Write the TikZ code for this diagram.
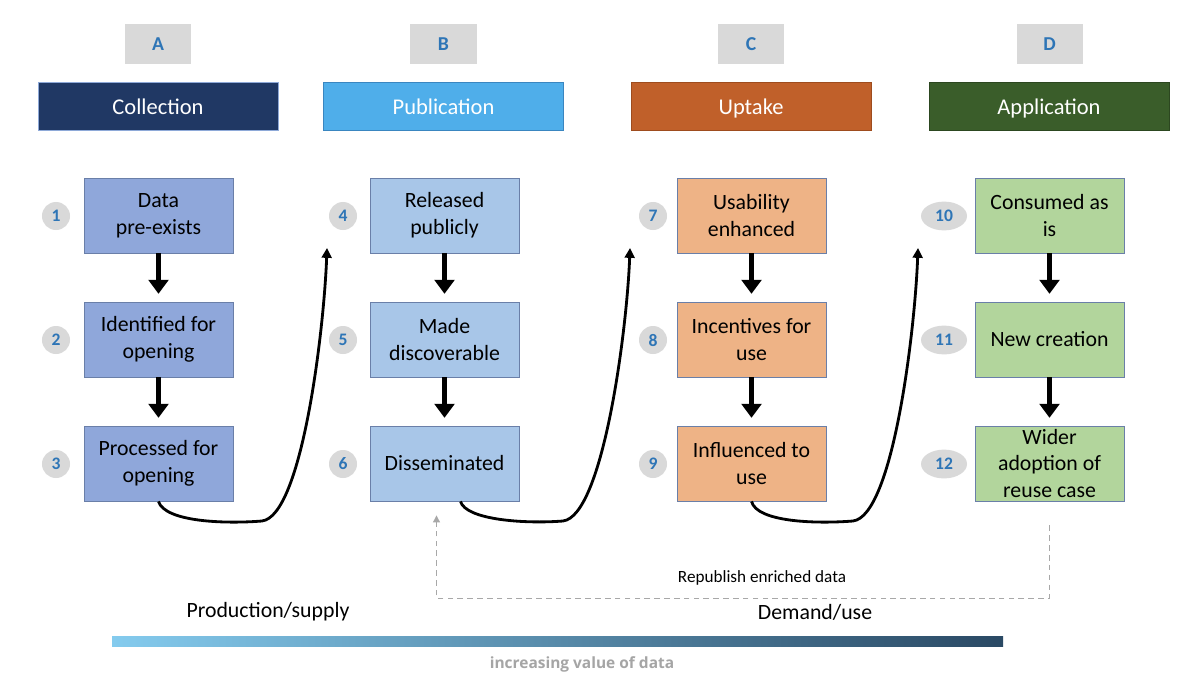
\documentclass[tikz,border=0pt]{standalone}
\usepackage{fontspec}
\setmainfont{Carlito}
\newfontfamily\valuefont{Open Sans}
\usetikzlibrary{arrows.meta, shapes.geometric}

\definecolor{tabgray}{HTML}{D9D9D9}
\definecolor{letterblue}{HTML}{2E75B6}
\definecolor{collectbar}{HTML}{203864}
\definecolor{collectedge}{HTML}{8EA9D8}
\definecolor{publishbar}{HTML}{4FAEEA}
\definecolor{publishedge}{HTML}{3A86C0}
\definecolor{uptakebar}{HTML}{C0602A}
\definecolor{uptakeedge}{HTML}{9E4C1E}
\definecolor{applybar}{HTML}{3A5D2A}
\definecolor{applyedge}{HTML}{2C4720}
\definecolor{collectfill}{HTML}{8FA7DA}
\definecolor{publishfill}{HTML}{A8C6E8}
\definecolor{uptakefill}{HTML}{EEB386}
\definecolor{applyfill}{HTML}{B2D59C}
\definecolor{boxedge}{HTML}{6A7FA8}
\definecolor{dashgray}{HTML}{A8A8A8}
\definecolor{valuegray}{HTML}{A5A5A5}
\definecolor{gradleft}{HTML}{84CBEE}
\definecolor{gradmid}{HTML}{4A9FD6}
\definecolor{gradright}{HTML}{2A4964}

\begin{document}
\begin{tikzpicture}[x=0.025cm, y=-0.025cm,
    tab/.style={rectangle, fill=tabgray, minimum width=1.65cm, minimum height=1cm, text=letterblue, font=\fontsize{14}{16}\selectfont\bfseries},
    bar/.style={rectangle, minimum width=6cm, minimum height=1.2cm, line width=0.6pt, text=white, text height=14pt, text depth=2.6pt, font=\fontsize{16}{19}\selectfont},
    stepbox/.style={rectangle, draw=boxedge, line width=0.6pt, minimum width=3.725cm, minimum height=1.875cm, inner sep=1pt, align=center, font=\fontsize{15.5}{19}\selectfont},
    num/.style={circle, fill=tabgray, minimum size=0.7cm, inner sep=0pt, text=letterblue, font=\fontsize{12.5}{14}\selectfont\bfseries},
    numoval/.style={ellipse, fill=tabgray, minimum width=1.15cm, minimum height=0.72cm, inner sep=0pt, text=letterblue, font=\fontsize{12.5}{14}\selectfont\bfseries},
    flow/.style={-{Triangle[width=14pt,length=10pt]}, line width=3.3pt, shorten >=5.5pt},
    jump/.style={-{Triangle[width=7pt,length=7pt]}, line width=2pt},
    dashline/.style={draw=dashgray, line width=0.8pt, dash pattern=on 4pt off 3pt, -{Triangle[width=5pt,length=5pt]}},
    caption/.style={font=\fontsize{15.5}{18}\selectfont}
]
\fill[white] (0,0) rectangle (1200,696);

\node[tab] (tabA) at (158,44) {A};
\node[tab] (tabB) at (443.5,44) {B};
\node[tab] (tabC) at (751,44) {C};
\node[tab] (tabD) at (1049.5,44) {D};

\node[bar, fill=collectbar, draw=collectedge] (collection) at (158,106) {Collection};
\node[bar, fill=publishbar, draw=publishedge] (publication) at (443.5,106) {Publication};
\node[bar, fill=uptakebar, draw=uptakeedge] (uptake) at (751,106) {Uptake};
\node[bar, fill=applybar, draw=applyedge] (application) at (1049,106) {Application};

\node[stepbox, fill=collectfill] (b1) at (158.5,215.5) {Data\\pre-exists};
\node[stepbox, fill=collectfill] (b2) at (158.5,339.5) {Identified for\\opening};
\node[stepbox, fill=collectfill] (b3) at (158.5,463.5) {Processed for\\opening};
\node[stepbox, fill=publishfill] (b4) at (444.5,215.5) {Released\\publicly};
\node[stepbox, fill=publishfill] (b5) at (444.5,339.5) {Made\\discoverable};
\node[stepbox, fill=publishfill] (b6) at (444.5,463.5) {Disseminated};
\node[stepbox, fill=uptakefill] (b7) at (751.5,215.5) {Usability\\enhanced};
\node[stepbox, fill=uptakefill] (b8) at (751.5,339.5) {Incentives for\\use};
\node[stepbox, fill=uptakefill] (b9) at (751.5,463.5) {Influenced to\\use};
\node[stepbox, fill=applyfill] (b10) at (1049.5,215.5) {Consumed as\\is};
\node[stepbox, fill=applyfill] (b11) at (1049.5,339.5) {New creation};
\node[stepbox, fill=applyfill] (b12) at (1049.5,463.5) {Wider\\adoption of\\reuse case};

\node[num] (n1) at (56,216) {1};
\node[num] (n2) at (56,340) {2};
\node[num] (n3) at (56,464) {3};
\node[num] (n4) at (343,216) {4};
\node[num] (n5) at (343,340) {5};
\node[num] (n6) at (343,464) {6};
\node[num] (n7) at (653,216) {7};
\node[num] (n8) at (653,340) {8};
\node[num] (n9) at (653,464) {9};
\node[numoval] (n10) at (944,216) {10};
\node[numoval] (n11) at (944,340) {11};
\node[numoval] (n12) at (944,464) {12};

\draw[flow] (b1) -- (b2);
\draw[flow] (b2) -- (b3);
\draw[flow] (b4) -- (b5);
\draw[flow] (b5) -- (b6);
\draw[flow] (b7) -- (b8);
\draw[flow] (b8) -- (b9);
\draw[flow] (b10) -- (b11);
\draw[flow] (b11) -- (b12);

\coordinate (t4) at (327,248);
\coordinate (t7) at (630,248);
\coordinate (t10) at (918,248);
\draw[jump] (b3.south) .. controls (165,522) and (225,524) .. (262,521) .. controls (302,516) and (324,330) .. (t4);
\draw[jump] ([xshift=0.4cm]b6.south) .. controls (466,520) and (525,524) .. (563,521) .. controls (603,516) and (627,330) .. (t7);
\draw[jump] (b9.south) .. controls (757,522) and (815,524) .. (853,521) .. controls (893,516) and (915,330) .. (t10);

\draw[dashline] ([yshift=-0.6cm]b12.south) -- ++(0,73) -| ([xshift=-0.2cm,yshift=-0.35cm]b6.south);
\node[font=\fontsize{12.2}{14}\selectfont] (republish) at (762,578) {Republish enriched data};

\node[caption] (supply) at (268,612) {Production/supply};
\node[caption] (demand) at (815,612) {Demand/use};

\shade[left color=gradleft, middle color=gradmid, right color=gradright] (112,636) rectangle (1003,646);
\node[text=valuegray, font=\valuefont\fontsize{11}{13}\selectfont\bfseries] (value) at (582,664) {increasing value of data};

\end{tikzpicture}
\end{document}
